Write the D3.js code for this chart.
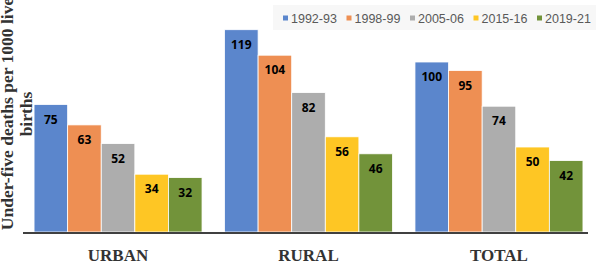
<!DOCTYPE html>
<html>
<head>
<meta charset="utf-8">
<script src="https://cdn.jsdelivr.net/npm/d3@7"></script>
<style>
  body { margin: 0; background: #fff; }
  svg { display: block; }
</style>
</head>
<body>
<div id="chart"></div>
<script>
/* Under-five mortality by residence, NFHS rounds */

const categories = ["URBAN", "RURAL", "TOTAL"];
const rounds = ["1992-93", "1998-99", "2005-06", "2015-16", "2019-21"];
const urban = [75, 63, 52, 34, 32];
const rural = [119, 104, 82, 56, 46];
const total = [100, 95, 74, 50, 42];
const colors = ["#5b86cc", "#ee8f53", "#adadad", "#fec624", "#72933a"];

const seriesByCat = [urban, rural, total];
const data = categories.map((c, i) => ({
    key: c,
    values: rounds.map((r, j) => ({ round: r, value: seriesByCat[i][j] }))
}));

const width = 596,
      height = 262,
      margin = ({ top: 28, right: 2, bottom: 30, left: 23 });

let svg = d3.select("#chart")
    .append("svg")
    .attr("width", width)
    .attr("height", height);

let x0 = d3.scaleBand()
    .domain(categories)
    .range([margin.left, width - margin.right])
    .paddingInner(0.118)
    .paddingOuter(0.058);

let x1 = d3.scaleBand()
    .domain(rounds)
    .range([0, x0.bandwidth()]);

let y = d3.scaleLinear()
    .domain([0, 120])
    .range([height - margin.bottom, margin.top]);

// legend box
let legend = svg.append("g").attr("class", "legend");
legend.append("rect")
    .attr("x", 273)
    .attr("y", 5)
    .attr("width", width - 273)
    .attr("height", 25)
    .attr("fill", "#f7f7f7");

let item = legend.selectAll(".item")
    .data(rounds)
    .join("g")
    .attr("class", "item")
    .attr("transform", (d, i) => `translate(${283 + i * 63.5},0)`);

item.append("rect")
    .attr("y", 15.5)
    .attr("width", 5)
    .attr("height", 5)
    .attr("fill", (d, i) => colors[i]);

item.append("text")
    .attr("x", 8)
    .attr("y", 23)
    .style("font-family", "'Liberation Sans', Arial, sans-serif")
    .style("font-size", "12.5px")
    .style("fill", "#595959")
    .text(d => d);

// bars
let group = svg.selectAll(".group")
    .data(data)
    .join("g")
    .attr("class", "group")
    .attr("transform", d => `translate(${x0(d.key)},0)`);

let bar = group.selectAll(".bar")
    .data(d => d.values)
    .join("g")
    .attr("class", "bar");

bar.append("rect")
    .attr("x", d => x1(d.round))
    .attr("y", d => y(d.value))
    .attr("width", x1.bandwidth())
    .attr("height", d => y(0) - y(d.value))
    .attr("fill", (d, i) => colors[i])
    .attr("stroke", "#fff")
    .attr("stroke-width", 0.8);

bar.append("text") // value labels inside bar top
    .text(d => d.value)
    .attr("x", d => x1(d.round) + x1.bandwidth() / 2)
    .attr("y", d => y(d.value) + 19)
    .attr("text-anchor", "middle")
    .style("font-family", "'Open Sans', sans-serif")
    .style("font-weight", "bold")
    .style("font-size", "12px")
    .style("fill", "#000");

// x axis
let xAxis = svg.append("g")
    .attr("transform", `translate(0,${y(0) + 1})`)
    .call(d3.axisBottom(x0).tickSize(0).tickPadding(16));

xAxis.select(".domain").remove();
xAxis.selectAll("text")
    .style("font-family", "'Liberation Serif', 'Times New Roman', serif")
    .style("font-weight", "bold")
    .style("font-size", "17px")
    .style("fill", "#333");

svg.append("line")
    .attr("x1", margin.left)
    .attr("x2", 588)
    .attr("y1", y(0) + 1)
    .attr("y2", y(0) + 1)
    .attr("stroke", "#404040")
    .attr("stroke-width", 2);

// y title
let ytitle = svg.append("text")
    .attr("transform", "translate(13,114) rotate(-90)")
    .attr("text-anchor", "middle")
    .style("font-family", "'Liberation Serif', 'Times New Roman', serif")
    .style("font-weight", "bold")
    .style("font-size", "17.5px")
    .style("fill", "#333");

ytitle.append("tspan").attr("x", 0).attr("dy", 0).text("Under-five deaths per 1000 live");
ytitle.append("tspan").attr("x", 0).attr("dy", 19).text("births");
</script>
</body>
</html>
